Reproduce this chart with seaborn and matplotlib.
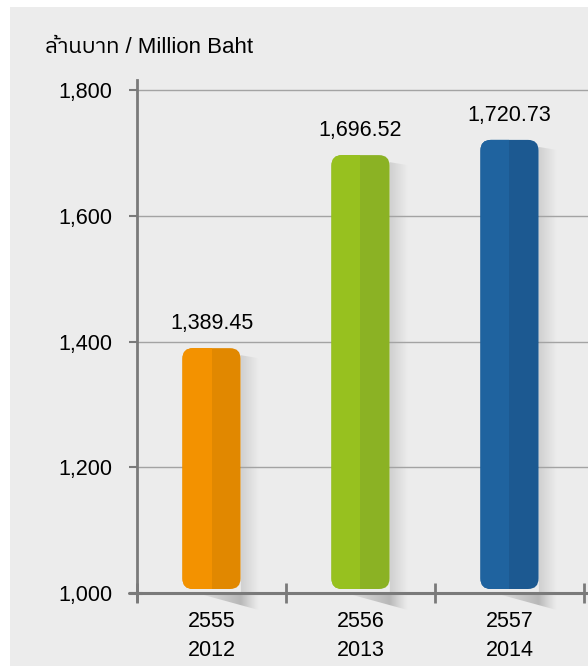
import numpy as np
import pandas as pd
import matplotlib
matplotlib.use("Agg")
import matplotlib.pyplot as plt
import seaborn as sns
from matplotlib import font_manager
from matplotlib.ft2font import FT2Font
from matplotlib.patches import FancyBboxPatch, Rectangle, Polygon

# ---- data -------------------------------------------------------------
years_be = ["2555", "2556", "2557"]
years_ce = ["2012", "2013", "2014"]
revenue = [1389.45, 1696.52, 1720.73]
face_light = ["#f39200", "#97c11f", "#1f639f"]
face_dark = ["#e18800", "#8bb224", "#1c5991"]
y_ticks = [1000, 1200, 1400, 1600, 1800]
unit_label = "ล้านบาท / Million Baht"

BG = "#ececec"
AXIS = "#7a7a7a"
GRID = "#a3a3a3"
W, H = 588, 667


def thai_family():
    found = []
    for fe in font_manager.fontManager.ttflist:
        try:
            if 0x0E25 in FT2Font(fe.fname).get_charmap():
                found.append(fe.name)
        except Exception:
            pass
    for name in found:
        if "Sans" in name:
            return name
    return found[0] if found else None


sns.set_theme(style="white")
families = ["Liberation Sans"]
_thai = thai_family()
if _thai:
    families.append(_thai)
families.append("DejaVu Sans")
plt.rcParams["font.family"] = families
plt.rcParams["font.size"] = 15

fig = plt.figure(figsize=(W / 100, H / 100), dpi=100)
fig.patch.set_facecolor("white")
fig.add_artist(Rectangle((10 / W, 1 - 666 / H), (W - 10) / W, (666 - 7) / H,
                         transform=fig.transFigure, facecolor=BG,
                         edgecolor="none", zorder=-10))

ax = fig.add_axes([137 / W, 1 - 615 / H, (W - 137) / W, (615 - 80) / H])
ax.set_facecolor("none")

df = pd.DataFrame({"year": years_be, "revenue": revenue})
sns.barplot(data=df, x="year", y="revenue", hue="year", palette=face_light,
            legend=False, width=0.39, ax=ax, zorder=2)

ax.set_xlim(-0.5, 2.5 + 4 / 149)
ax.set_ylim(965, 1816)

# pixel scale of the data axes
o = ax.transData.transform((0, 0))
sx = ax.transData.transform((1, 0))[0] - o[0]
sy = ax.transData.transform((0, 1))[1] - o[1]
aspect = sx / sy
radius = 10.5 / sx
base = 1000 + 4 / sy

bars = list(ax.patches)
for i, p in enumerate(bars):
    x0, w, top = p.get_x(), p.get_width(), p.get_height()
    p.set_visible(False)
    x1 = x0 + w

    # soft cast shadow: strip to the right and wedge below the axis
    sw = 18 / sx
    drop = 17 / sy
    apex = x0 + 14 / sx
    shadow = Polygon([(x1, top - 7 / sy), (x1 + sw, top - 10 / sy),
                      (x1 + sw, 1000 - drop), (apex, 1000),
                      (x1, 1000)], closed=True, transform=ax.transData,
                     facecolor="none", edgecolor="none")
    ax.add_patch(shadow)
    xs = np.linspace(x0, x1 + sw, 240)
    ys = np.linspace(1000 - drop, top, 400)
    X, Y = np.meshgrid(xs, ys)
    t_right = np.clip((X - x1) / sw, 0, 1)
    t_left = np.clip((X - apex) / (x1 - apex), 0, 1)
    strip = 0.30 * (1 - t_right)
    wedge = np.where(X <= x1, 0.55 * t_left ** 0.8,
                     0.55 * (1 - t_right) ** 1.2)
    alpha = np.where(Y < 1000, wedge, np.where(X > x1, strip, 0))
    img = np.zeros(X.shape + (4,))
    img[..., :3] = 0.55
    img[..., 3] = alpha
    im = ax.imshow(img, extent=(x0, x1 + sw, 1000 - drop, top),
                   aspect="auto", origin="lower", zorder=0.3,
                   interpolation="bilinear")
    im.set_clip_path(shadow)

    # two-tone rounded bar
    dark = FancyBboxPatch((x0, base), w, top - base,
                          boxstyle=f"round,pad=0,rounding_size={radius}",
                          mutation_aspect=aspect, facecolor=face_dark[i],
                          edgecolor="none", zorder=2)
    ax.add_patch(dark)
    light = FancyBboxPatch((x0, base), w, top - base,
                           boxstyle=f"round,pad=0,rounding_size={radius}",
                           mutation_aspect=aspect, facecolor=face_light[i],
                           edgecolor="none", zorder=2.1)
    ax.add_patch(light)
    light.set_clip_path(Rectangle((x0 - 0.1, 900), w / 2 + 0.1, 2000,
                                  transform=ax.transData))

    ax.annotate(f"{revenue[i]:,.2f}", (x0 + w / 2, top), xytext=(0, 10),
                textcoords="offset points", ha="center", va="bottom",
                fontsize=15.5, color="black")

ax.set_xlim(-0.5, 2.5 + 4 / 149)
ax.set_ylim(965, 1816)

# axes styling
ax.set_axisbelow(True)
ax.yaxis.grid(True, color=GRID, lw=1)
ax.xaxis.grid(False)
for side in ("top", "right"):
    ax.spines[side].set_visible(False)
ax.spines["left"].set_color(AXIS)
ax.spines["left"].set_linewidth(2)
ax.spines["left"].set_bounds(987, 1816)
ax.spines["bottom"].set_position(("data", 1000))
ax.spines["bottom"].set_color(AXIS)
ax.spines["bottom"].set_linewidth(2.2)
ax.axhline(1000, xmin=-0.018, xmax=0.01, color=AXIS, lw=2.2, clip_on=False)

ax.set_yticks(y_ticks)
ax.set_yticklabels([f"{t:,}" for t in y_ticks])
ax.tick_params(axis="y", length=6, width=1.5, color=AXIS, pad=12,
               labelsize=15.5, labelcolor="black", left=True)

ax.set_xticks(range(len(years_be)))
ax.set_xticklabels([f"{a}\n{b}" for a, b in zip(years_be, years_ce)],
                   linespacing=1.5)
ax.set_xticks([-0.5, 0.5, 1.5, 2.5], minor=True)
ax.tick_params(axis="x", which="major", length=0, pad=13, labelsize=15.5,
               labelcolor="black")
ax.tick_params(axis="x", which="minor", direction="inout", length=14,
               width=2, color=AXIS, bottom=True)
ax.set_xlabel("")
ax.set_ylabel("")

fig.text(45 / W, 1 - 53 / H, unit_label, fontsize=16, color="black",
         ha="left", va="baseline")

fig.savefig("out.png", dpi=100, facecolor=fig.get_facecolor())
